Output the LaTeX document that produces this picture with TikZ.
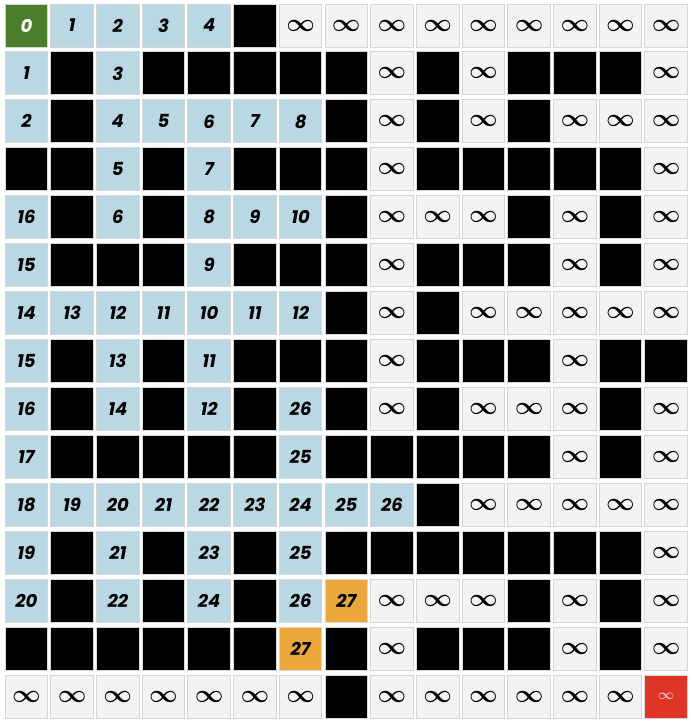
\documentclass[tikz,border=0pt]{standalone}
\usepackage{fontspec}
\setmainfont{Poppins}
\definecolor{cellblue}{HTML}{BAD8E4}
\definecolor{cellgray}{HTML}{F3F3F3}
\definecolor{cellline}{HTML}{D6D6D6}
\definecolor{cellgreen}{HTML}{4B7E2B}
\definecolor{cellorange}{HTML}{EBA73B}
\definecolor{cellred}{HTML}{DE3526}
\definecolor{redtext}{HTML}{F6C6D0}
\def\strB{B}\def\strI{I}\def\strG{G}\def\strR{R}\def\strO{O}
\tikzset{
  cellbase/.style={minimum width=42.6pt, minimum height=43pt, inner sep=0pt, draw=cellline, line width=1pt},
  blk/.style={cellbase, fill=black},
  inf/.style={cellbase, fill=cellgray, font=\fontsize{29}{29}\selectfont\boldmath},
  num/.style={cellbase, fill=cellblue, font=\fontsize{18}{18}\selectfont\bfseries\itshape},
  start/.style={num, fill=cellgreen, text=white},
  path27/.style={num, fill=cellorange},
  goal/.style={cellbase, fill=cellred, text=redtext, font=\fontsize{15}{15}\selectfont\boldmath},
}
\newcommand\mycell[3]{%
  \edef\tv{#3}%
  \ifx\tv\strB
    \node[blk] (n-#1-#2) at ({26.4+45.7*#2},{25.5+47.93*#1}) {};%
  \else\ifx\tv\strI
    \node[inf] (n-#1-#2) at ({26.4+45.7*#2},{25.5+47.93*#1}) {$\infty$};%
  \else\ifx\tv\strG
    \node[start] (n-#1-#2) at ({26.4+45.7*#2},{25.5+47.93*#1}) {0};%
  \else\ifx\tv\strO
    \node[path27] (n-#1-#2) at ({26.4+45.7*#2},{25.5+47.93*#1}) {27};%
  \else\ifx\tv\strR
    \node[goal] (n-#1-#2) at ({26.4+45.7*#2},{25.5+47.93*#1}) {$\infty$};%
  \else
    \node[num] (n-#1-#2) at ({26.4+45.7*#2},{25.5+47.93*#1}) {#3};%
  \fi\fi\fi\fi\fi}
\newcommand\cellrow[2]{\foreach \v [count=\c from 0] in {#2} {\mycell{#1}{\c}{\v}}}
\begin{document}
\begin{tikzpicture}[x=1pt,y=-1pt]
\fill[white] (0,0) rectangle (691,723);
\useasboundingbox (0,0) rectangle (691,723);
\cellrow{0}{G,1,2,3,4,B,I,I,I,I,I,I,I,I,I}
\cellrow{1}{1,B,3,B,B,B,B,B,I,B,I,B,B,B,I}
\cellrow{2}{2,B,4,5,6,7,8,B,I,B,I,B,I,I,I}
\cellrow{3}{B,B,5,B,7,B,B,B,I,B,B,B,B,B,I}
\cellrow{4}{16,B,6,B,8,9,10,B,I,I,I,B,I,B,I}
\cellrow{5}{15,B,B,B,9,B,B,B,I,B,B,B,I,B,I}
\cellrow{6}{14,13,12,11,10,11,12,B,I,B,I,I,I,I,I}
\cellrow{7}{15,B,13,B,11,B,B,B,I,B,B,B,I,B,B}
\cellrow{8}{16,B,14,B,12,B,26,B,I,B,I,I,I,B,I}
\cellrow{9}{17,B,B,B,B,B,25,B,B,B,B,B,I,B,I}
\cellrow{10}{18,19,20,21,22,23,24,25,26,B,I,I,I,I,I}
\cellrow{11}{19,B,21,B,23,B,25,B,B,B,B,B,B,B,I}
\cellrow{12}{20,B,22,B,24,B,26,O,I,I,I,B,I,B,I}
\cellrow{13}{B,B,B,B,B,B,O,B,I,B,B,B,I,B,I}
\cellrow{14}{I,I,I,I,I,I,I,B,I,I,I,I,I,I,R}
\end{tikzpicture}
\end{document}
